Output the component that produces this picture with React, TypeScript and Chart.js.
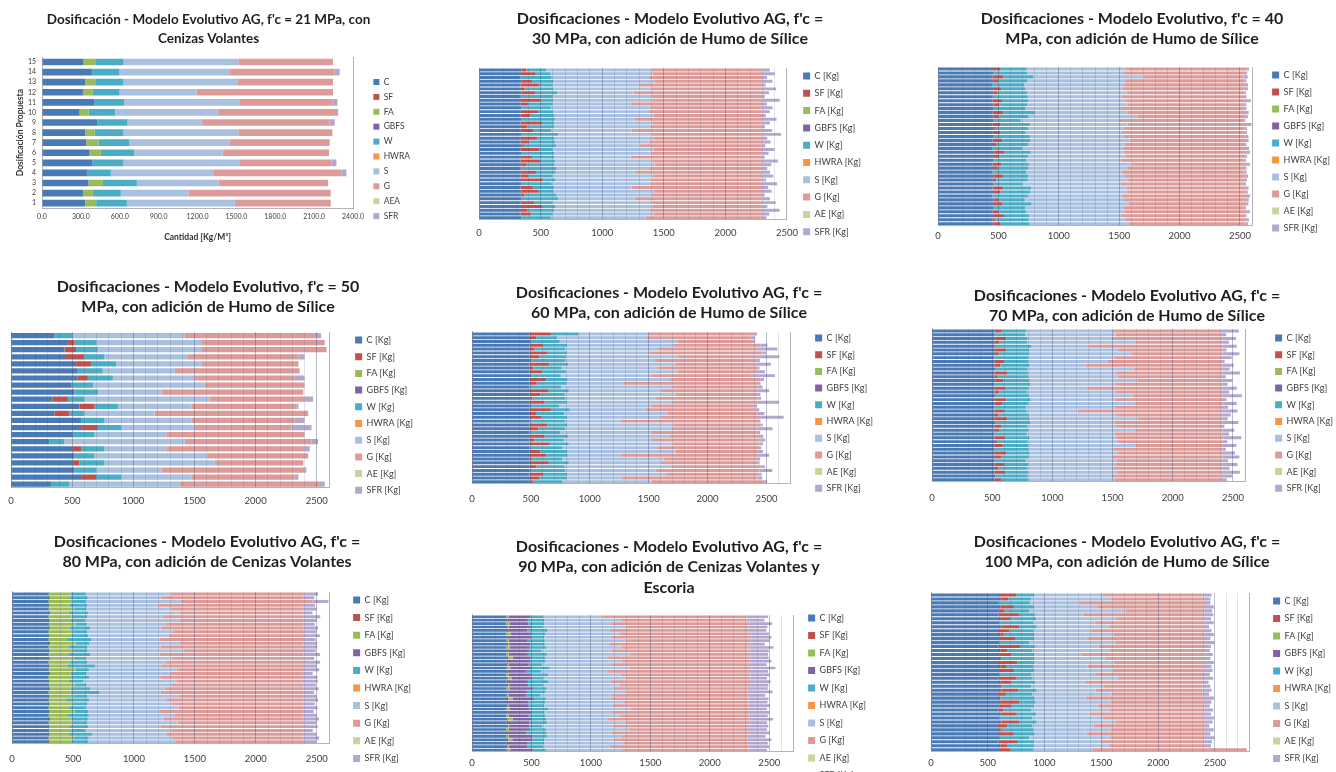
import React, { useEffect, useMemo, useRef } from "react";
import { Chart, registerables } from "chart.js";

Chart.register(...registerables);

// ---------- categories / legend names ----------
const MATERIALS = ["C", "SF", "FA", "GBFS", "W", "HWRA", "S", "G", "AE", "SFR"];
const LEGEND_21 = ["C", "SF", "FA", "GBFS", "W", "HWRA", "S", "G", "AEA", "SFR"];
const LEGEND_KG = ["C [Kg]", "SF [Kg]", "FA [Kg]", "GBFS [Kg]", "W [Kg]", "HWRA [Kg]", "S [Kg]", "G [Kg]", "AE [Kg]", "SFR [Kg]"];
const COLORS = ["#4a7ab5", "#c0504d", "#9bbb59", "#8064a2", "#4bacc6", "#f79646", "#a9c0e0", "#dc9b99", "#c3d69b", "#b4a7cf"];

const ROWS_15 = ["1", "2", "3", "4", "5", "6", "7", "8", "9", "10", "11", "12", "13", "14", "15"];
const ROWS_22 = ["1", "2", "3", "4", "5", "6", "7", "8", "9", "10", "11", "12", "13", "14", "15", "16", "17", "18", "19", "20", "21", "22"];
const ROWS_40 = [
  "1", "2", "3", "4", "5", "6", "7", "8", "9", "10",
  "11", "12", "13", "14", "15", "16", "17", "18", "19", "20",
  "21", "22", "23", "24", "25", "26", "27", "28", "29", "30",
  "31", "32", "33", "34", "35", "36", "37", "38", "39", "40",
];

// ---------- f'c = 21 MPa ----------
const C21 = [334, 316, 359, 347, 390, 367, 341, 334, 429, 290, 403, 316, 334, 385, 321];
const FA21 = [84, 77, 111, 0, 0, 87, 95, 72, 0, 69, 0, 77, 77, 0, 90];
const W21 = [237, 215, 262, 184, 239, 257, 239, 223, 231, 206, 231, 205, 218, 213, 218];
const S21 = [834, 522, 629, 796, 893, 683, 770, 886, 572, 788, 888, 596, 878, 847, 886];
const G21 = [739, 1098, 847, 983, 711, 821, 775, 726, 988, 932, 719, 1052, 739, 814, 731];
const SFR21 = [0, 0, 0, 39, 39, 0, 0, 0, 39, 0, 39, 0, 0, 38, 0];

// ---------- f'c = 30 MPa ----------
const C30 = [345, 340, 338, 342, 336, 340, 344, 339, 341, 337, 343, 340, 338, 345, 336, 341, 339, 342, 340, 337, 344, 338, 341, 340, 336, 343, 339, 342, 338, 341, 340, 337, 345, 339, 342, 338, 341, 340, 336, 343];
const SF30 = [40, 120, 0, 90, 150, 30, 110, 0, 160, 60, 0, 140, 80, 0, 175, 50, 100, 0, 130, 70, 20, 150, 0, 90, 160, 40, 0, 120, 60, 180, 0, 100, 140, 30, 0, 110, 170, 50, 90, 0];
const W30 = [160, 120, 250, 170, 110, 230, 180, 260, 100, 200, 240, 120, 190, 270, 100, 220, 150, 300, 140, 210, 260, 110, 270, 180, 120, 230, 290, 160, 200, 100, 250, 170, 120, 260, 300, 150, 110, 220, 170, 240];
const S30 = [855, 830, 790, 820, 700, 790, 620, 800, 810, 630, 820, 780, 810, 650, 800, 780, 650, 760, 810, 760, 680, 820, 780, 620, 790, 810, 750, 640, 810, 780, 800, 630, 810, 770, 620, 800, 790, 780, 820, 770];
const G30 = [900, 890, 920, 880, 1000, 900, 1050, 900, 890, 1070, 890, 920, 880, 1040, 890, 910, 1060, 900, 880, 930, 990, 880, 910, 1070, 890, 880, 920, 1040, 890, 900, 910, 1060, 880, 900, 1040, 900, 890, 910, 880, 950];
const SFR30 = [60, 100, 40, 80, 30, 120, 50, 20, 140, 40, 90, 60, 30, 110, 60, 20, 80, 150, 40, 60, 30, 100, 50, 20, 130, 70, 40, 60, 90, 30, 120, 50, 80, 20, 60, 110, 40, 140, 60, 30];

// ---------- f'c = 40 MPa ----------
const C40 = [455, 460, 450, 458, 452, 456, 460, 454, 450, 458, 455, 452, 460, 456, 450, 458, 454, 460, 452, 456, 450, 458, 455, 460, 452, 456, 450, 458, 454, 460, 452, 456, 450, 458, 455, 460, 452, 456, 450, 458];
const SF40 = [60, 0, 90, 40, 0, 70, 30, 0, 80, 50, 0, 90, 40, 0, 70, 20, 60, 0, 80, 30, 0, 90, 50, 0, 70, 40, 0, 80, 30, 0, 90, 60, 0, 40, 80, 0, 50, 90, 20, 60];
const W40 = [220, 280, 250, 240, 260, 200, 250, 290, 220, 230, 270, 260, 250, 230, 240, 270, 210, 300, 230, 260, 250, 220, 240, 270, 230, 250, 280, 210, 260, 240, 230, 250, 300, 220, 240, 260, 230, 210, 280, 240];
const S40 = [820, 800, 910, 810, 830, 800, 820, 780, 800, 830, 790, 770, 900, 820, 810, 790, 800, 780, 830, 800, 840, 770, 810, 780, 850, 820, 790, 800, 830, 810, 790, 800, 770, 830, 800, 820, 810, 760, 800, 820];
const G40 = [1000, 1010, 830, 990, 1000, 1010, 980, 1010, 1000, 970, 1020, 970, 890, 1030, 990, 1000, 1020, 1000, 960, 1000, 1010, 1010, 990, 1020, 950, 980, 1010, 1000, 970, 1010, 990, 990, 1030, 1000, 980, 990, 1010, 1030, 1000, 970];
const SFR40 = [20, 10, 35, 15, 25, 30, 10, 20, 40, 15, 20, 30, 25, 10, 35, 20, 15, 30, 20, 10, 25, 35, 15, 20, 30, 10, 25, 20, 15, 30, 20, 10, 35, 25, 15, 20, 30, 10, 25, 20];

// ---------- f'c = 50 MPa ----------
const C50 = [355, 465, 437, 450, 532, 546, 546, 491, 519, 341, 560, 355, 573, 573, 505, 314, 505, 519, 505, 519, 573, 328];
const SF50 = [0, 55, 95, 150, 123, 0, 82, 0, 0, 124, 123, 123, 0, 137, 0, 0, 68, 0, 55, 0, 123, 0];
const W50 = [150, 180, 178, 165, 205, 204, 205, 179, 191, 135, 191, 122, 192, 190, 178, 123, 192, 164, 205, 181, 204, 150];
const S50 = [915, 855, 845, 682, 695, 590, 667, 913, 520, 1025, 601, 575, 710, 600, 587, 983, 505, 917, 900, 530, 575, 902];
const G50 = [1065, 1010, 1025, 903, 795, 1020, 820, 817, 1160, 775, 860, 1255, 845, 793, 1130, 1037, 1130, 830, 725, 1170, 845, 1145];
const SFR50 = [50, 0, 0, 50, 0, 0, 80, 0, 0, 70, 15, 0, 80, 164, 0, 53, 43, 0, 0, 15, 30, 40];

// ---------- f'c = 60 MPa ----------
const C60 = [490, 485, 495, 488, 492, 486, 490, 494, 488, 491, 487, 493, 489, 490, 486, 492, 488, 495, 487, 491, 489, 493, 486, 490, 488, 492, 487, 494, 489, 491, 486, 490, 493, 488, 492, 487, 490, 489, 494, 486];
const SF60 = [180, 60, 0, 120, 40, 150, 80, 0, 170, 30, 110, 0, 140, 60, 0, 160, 90, 20, 130, 0, 180, 50, 100, 0, 150, 70, 0, 120, 40, 170, 0, 90, 140, 20, 160, 60, 0, 120, 80, 30];
const W60 = [230, 180, 250, 200, 260, 170, 230, 300, 160, 240, 200, 260, 180, 250, 270, 170, 210, 280, 190, 250, 160, 240, 220, 300, 170, 230, 260, 200, 250, 160, 280, 230, 180, 260, 170, 240, 300, 200, 230, 250];
const S60 = [600, 760, 1000, 900, 780, 700, 950, 760, 900, 820, 950, 760, 880, 480, 950, 780, 940, 760, 900, 780, 650, 880, 800, 470, 900, 900, 770, 860, 740, 880, 800, 920, 450, 860, 780, 900, 770, 840, 470, 760];
const G60 = [900, 880, 640, 740, 850, 960, 660, 860, 680, 840, 680, 860, 760, 1150, 720, 800, 700, 870, 720, 880, 920, 760, 840, 1160, 740, 720, 900, 780, 910, 740, 870, 700, 1160, 790, 820, 760, 880, 790, 1150, 960];
const SFR60 = [20, 40, 20, 60, 170, 30, 200, 30, 140, 20, 60, 200, 30, 20, 40, 120, 20, 30, 180, 20, 40, 60, 200, 30, 20, 140, 30, 20, 60, 30, 20, 40, 100, 30, 20, 40, 110, 20, 40, 20];

// ---------- f'c = 70 MPa ----------
const C70 = [520, 515, 525, 518, 522, 516, 524, 519, 521, 517, 523, 518, 520, 525, 516, 522, 519, 524, 517, 521, 520, 518, 523, 516, 525, 519, 522, 517, 520, 524, 518, 521, 516, 523, 520, 518, 522, 517, 525, 519];
const SF70 = [60, 0, 90, 40, 0, 100, 30, 0, 80, 50, 0, 110, 20, 70, 0, 90, 40, 0, 100, 60, 0, 80, 30, 110, 0, 60, 40, 0, 90, 20, 70, 0, 100, 50, 0, 80, 30, 90, 0, 60];
const W70 = [200, 260, 180, 230, 300, 190, 250, 280, 200, 240, 270, 170, 260, 210, 300, 190, 230, 280, 200, 220, 260, 190, 250, 180, 290, 210, 240, 270, 200, 250, 210, 280, 190, 230, 260, 200, 240, 190, 270, 220];
const S70 = [720, 750, 700, 900, 480, 740, 850, 710, 660, 470, 880, 730, 740, 900, 700, 480, 740, 860, 700, 880, 740, 420, 720, 900, 700, 740, 880, 730, 720, 740, 890, 710, 740, 700, 750, 730, 720, 740, 700, 720];
const G70 = [900, 880, 920, 720, 1110, 870, 760, 900, 950, 1130, 740, 880, 870, 700, 900, 1130, 880, 750, 900, 740, 890, 1190, 890, 710, 900, 880, 730, 890, 890, 880, 730, 900, 880, 910, 880, 890, 900, 880, 900, 900];
const SFR70 = [150, 40, 110, 60, 120, 30, 140, 80, 20, 100, 60, 150, 30, 90, 40, 120, 60, 160, 30, 110, 50, 140, 70, 40, 130, 20, 100, 60, 150, 40, 110, 30, 90, 140, 50, 120, 60, 140, 100, 30];

// ---------- f'c = 80 MPa ----------
const C80 = [300, 310, 295, 305, 300, 315, 298, 308, 302, 310, 296, 305, 300, 312, 298, 306, 301, 309, 297, 304, 300, 311, 295, 307, 302, 310, 298, 305, 301, 309, 296, 304, 300, 312, 298, 306, 302, 308, 299, 305];
const FA80 = [180, 160, 200, 170, 210, 150, 190, 170, 220, 160, 200, 180, 150, 210, 170, 190, 160, 200, 180, 150, 220, 170, 190, 160, 210, 170, 180, 200, 150, 190, 170, 210, 160, 180, 200, 170, 190, 160, 210, 180];
const W80 = [120, 150, 110, 140, 100, 160, 130, 120, 90, 170, 120, 140, 200, 110, 150, 120, 180, 100, 140, 230, 110, 130, 150, 120, 100, 160, 240, 110, 180, 120, 140, 110, 170, 130, 120, 150, 110, 190, 120, 140];
const S80 = [700, 600, 780, 580, 690, 750, 620, 780, 650, 580, 700, 660, 560, 740, 600, 790, 570, 700, 640, 540, 720, 680, 580, 760, 700, 610, 500, 750, 640, 690, 760, 580, 700, 620, 740, 590, 710, 600, 680, 720];
const G80 = [1100, 1170, 1080, 1190, 1080, 1010, 1150, 1010, 1130, 1170, 1080, 1110, 1190, 1020, 1160, 990, 1180, 1090, 1130, 1170, 1050, 1090, 1180, 1030, 1080, 1140, 1170, 1020, 1110, 1080, 1020, 1180, 1060, 1140, 1040, 1170, 1070, 1130, 1080, 1050];
const SFR80 = [110, 90, 130, 100, 120, 80, 140, 110, 90, 120, 100, 130, 90, 110, 125, 95, 135, 80, 140, 105, 120, 85, 110, 130, 100, 125, 90, 115, 130, 95, 120, 90, 110, 135, 100, 120, 85, 110, 130, 100];

// ---------- f'c = 90 MPa ----------
const C90 = [290, 300, 285, 295, 305, 288, 298, 292, 302, 286, 296, 290, 304, 288, 298, 292, 300, 286, 296, 290, 302, 288, 298, 292, 304, 286, 296, 290, 300, 288, 298, 292, 302, 286, 296, 290, 304, 288, 298, 292];
const FA90 = [20, 0, 30, 10, 0, 40, 0, 20, 10, 30, 0, 20, 40, 0, 10, 30, 0, 25, 35, 0, 10, 30, 0, 15, 40, 0, 10, 30, 0, 20, 45, 0, 10, 25, 0, 20, 35, 0, 10, 30];
const GBFS90 = [180, 170, 160, 190, 160, 170, 200, 150, 180, 170, 190, 160, 150, 200, 170, 180, 160, 190, 170, 180, 160, 200, 170, 150, 180, 190, 170, 160, 200, 170, 160, 190, 170, 180, 160, 200, 170, 180, 160, 190];
const W90 = [110, 140, 130, 100, 170, 120, 110, 150, 120, 140, 100, 160, 120, 130, 110, 150, 120, 140, 100, 170, 130, 110, 150, 120, 100, 140, 130, 160, 110, 140, 120, 150, 110, 130, 170, 120, 100, 140, 130, 110];
const S90 = [500, 640, 560, 700, 520, 620, 560, 680, 540, 630, 590, 700, 520, 640, 580, 670, 550, 610, 690, 530, 640, 560, 680, 600, 540, 650, 580, 690, 560, 620, 520, 660, 590, 700, 550, 630, 580, 670, 560, 640];
const G90 = [1210, 1060, 1160, 1030, 1150, 1110, 1160, 1050, 1170, 1070, 1150, 1010, 1200, 1080, 1160, 1030, 1190, 1090, 1040, 1160, 1080, 1140, 1030, 1140, 1160, 1060, 1140, 1000, 1160, 1090, 1190, 1040, 1140, 1000, 1150, 1060, 1130, 1050, 1170, 1070];
const SFR90 = [180, 150, 200, 160, 170, 150, 190, 160, 140, 210, 170, 150, 160, 180, 150, 200, 170, 160, 150, 180, 170, 160, 200, 150, 170, 160, 180, 150, 170, 160, 200, 150, 170, 160, 180, 150, 200, 160, 170, 150];

// ---------- f'c = 100 MPa ----------
const C100 = [600, 620, 590, 610, 605, 595, 615, 600, 620, 590, 610, 600, 605, 595, 615, 600, 620, 590, 610, 600, 605, 595, 615, 600, 620, 590, 610, 600, 605, 595, 615, 600, 620, 590, 610, 600, 605, 595, 615, 600];
const SF100 = [150, 60, 0, 120, 40, 180, 80, 0, 160, 100, 30, 140, 0, 190, 60, 110, 0, 170, 50, 130, 0, 160, 90, 20, 150, 70, 0, 180, 100, 40, 140, 0, 160, 80, 20, 130, 0, 170, 60, 100];
const W100 = [160, 200, 280, 180, 220, 140, 230, 300, 150, 210, 270, 170, 260, 130, 220, 200, 290, 150, 240, 180, 280, 140, 210, 260, 160, 230, 300, 140, 200, 250, 170, 290, 150, 220, 270, 180, 260, 140, 230, 200];
const S100 = [600, 700, 430, 560, 850, 420, 700, 540, 640, 510, 700, 460, 750, 560, 680, 420, 620, 700, 480, 690, 560, 750, 440, 640, 520, 700, 450, 660, 560, 690, 470, 620, 700, 540, 680, 460, 720, 590, 660, 520];
const G100 = [880, 830, 1100, 930, 690, 1070, 780, 960, 830, 990, 800, 1030, 790, 920, 830, 1070, 870, 790, 1020, 800, 950, 750, 1040, 870, 940, 800, 1040, 820, 940, 830, 1010, 890, 780, 970, 830, 1030, 820, 910, 840, 1360];
const SFR100 = [80, 50, 60, 90, 70, 80, 60, 90, 50, 70, 80, 60, 90, 70, 50, 80, 60, 90, 70, 80, 60, 90, 50, 70, 80, 60, 90, 70, 50, 80, 60, 90, 70, 50, 80, 60, 90, 70, 60, 0];

// ---------- panel layout specs ----------
const FONT = "Lato";
const TS = 16; // title size of the dense panels
const TLH = 1.27;

const PANELS: any[] = [
  {
    key: "p21", top: 0, height: 250,
    title: ["Dosificación - Modelo Evolutivo AG, f'c = 21 MPa, con", "Cenizas Volantes"],
    titleSize: 13.5, titleLH: 1.35, titleY: 20, titleX: 208.5,
    plotL: 42, plotR: 353, plotT: 57, plotB: 213,
    xMax: 2400, xStep: 300, tickY: 222, tickSize: 7, fixed1: true,
    legendX: 373, legendY: 82, legendGap: 14.9, legendSize: 8.5, legendBox: 6,
    legendLabels: LEGEND_21, rows: ROWS_15, reverseRows: true, barPct: 0.66,
    series: { C: C21, FA: FA21, W: W21, S: S21, G: G21, SFR: SFR21 },
    xTitle: { text: "Cantidad [Kg/M³]", y: 237, size: 8.5 },
    yTitle: { text: "Dosificación Propuesta", x: 20, size: 8.5 },
    yTicks: { size: 7, pad: 6 },
    grid: false,
  },
  {
    key: "p30", top: 0, height: 262,
    title: ["Dosificaciones - Modelo Evolutivo AG, f'c =", "30 MPa, con adición de Humo de Sílice"],
    titleSize: TS, titleLH: TLH, titleY: 18.5, titleX: 670,
    plotL: 477, plotR: 787, plotT: 68, plotB: 227,
    xMax: 2500, xStep: 100, tickY: 240, tickSize: 9.5,
    legendX: 803, legendY: 76, legendGap: 17.3, legendSize: 9, legendBox: 7,
    legendLabels: LEGEND_KG, rows: ROWS_40, barPct: 0.78,
    series: { C: C30, SF: SF30, W: W30, S: S30, G: G30, SFR: SFR30 },
    grid: true,
  },
  {
    key: "p40", top: 0, height: 262,
    title: ["Dosificaciones - Modelo Evolutivo, f'c = 40", "MPa, con adición de Humo de Sílice"],
    titleSize: TS, titleLH: TLH, titleY: 19, titleX: 1132,
    plotL: 938, plotR: 1252, plotT: 67, plotB: 230,
    xMax: 2600, xStep: 100, tickY: 240, tickSize: 9.5,
    legendX: 1272, legendY: 75, legendGap: 17, legendSize: 9, legendBox: 7,
    legendLabels: LEGEND_KG, rows: ROWS_40, barPct: 0.78,
    series: { C: C40, SF: SF40, W: W40, S: S40, G: G40, SFR: SFR40 },
    grid: true,
  },
  {
    key: "p50", top: 250, height: 275,
    title: ["Dosificaciones - Modelo Evolutivo, f'c = 50", "MPa, con adición de Humo de Sílice"],
    titleSize: TS, titleLH: TLH, titleY: 287, titleX: 208,
    plotL: 11, plotR: 329, plotT: 332, plotB: 495,
    xMax: 2600, xStep: 100, tickY: 508, tickSize: 9.5,
    legendX: 355, legendY: 340, legendGap: 16.7, legendSize: 9, legendBox: 7,
    legendLabels: LEGEND_KG, rows: ROWS_22, barPct: 0.74,
    series: { C: C50, SF: SF50, W: W50, S: S50, G: G50, SFR: SFR50 },
    grid: true,
  },
  {
    key: "p60", top: 250, height: 275,
    title: ["Dosificaciones - Modelo Evolutivo AG, f'c =", "60 MPa, con adición de Humo de Sílice"],
    titleSize: TS, titleLH: TLH, titleY: 293, titleX: 669,
    plotL: 472, plotR: 790, plotT: 332, plotB: 493,
    xMax: 2700, xStep: 100, tickY: 508, tickSize: 9.5,
    legendX: 815, legendY: 338, legendGap: 16.7, legendSize: 9, legendBox: 7,
    legendLabels: LEGEND_KG, rows: ROWS_40, barPct: 0.78,
    series: { C: C60, SF: SF60, W: W60, S: S60, G: G60, SFR: SFR60 },
    grid: true,
  },
  {
    key: "p70", top: 250, height: 275,
    title: ["Dosificaciones - Modelo Evolutivo AG, f'c =", "70 MPa, con adición de Humo de Sílice"],
    titleSize: TS, titleLH: TLH, titleY: 296, titleX: 1127,
    plotL: 932, plotR: 1245, plotT: 329, plotB: 492,
    xMax: 2600, xStep: 100, tickY: 508, tickSize: 9.5,
    legendX: 1275, legendY: 338, legendGap: 16.7, legendSize: 9, legendBox: 7,
    legendLabels: LEGEND_KG, rows: ROWS_40, barPct: 0.78,
    series: { C: C70, SF: SF70, W: W70, S: S70, G: G70, SFR: SFR70 },
    grid: true,
  },
  {
    key: "p80", top: 510, height: 280,
    title: ["Dosificaciones - Modelo Evolutivo AG, f'c =", "80 MPa, con adición de Cenizas Volantes"],
    titleSize: TS, titleLH: TLH, titleY: 542, titleX: 207,
    plotL: 12, plotR: 329, plotT: 592, plotB: 753,
    xMax: 2600, xStep: 100, tickY: 768, tickSize: 9.5,
    legendX: 353, legendY: 600, legendGap: 17.6, legendSize: 9, legendBox: 7,
    legendLabels: LEGEND_KG, rows: ROWS_40, barPct: 0.78,
    series: { C: C80, FA: FA80, W: W80, S: S80, G: G80, SFR: SFR80 },
    grid: true,
  },
  {
    key: "p90", top: 510, height: 290,
    title: ["Dosificaciones - Modelo Evolutivo AG, f'c =", "90 MPa, con adición de Cenizas Volantes y", "Escoria"],
    titleSize: TS, titleLH: TLH, titleY: 547, titleX: 669,
    plotL: 472, plotR: 793, plotT: 615, plotB: 757,
    xMax: 2700, xStep: 100, tickY: 768, tickSize: 9.5,
    legendX: 808, legendY: 618, legendGap: 17.5, legendSize: 9, legendBox: 7,
    legendLabels: LEGEND_KG, rows: ROWS_40, barPct: 0.78,
    series: { C: C90, FA: FA90, GBFS: GBFS90, W: W90, S: S90, G: G90, SFR: SFR90 },
    grid: true,
  },
  {
    key: "p100", top: 510, height: 290,
    title: ["Dosificaciones - Modelo Evolutivo AG, f'c =", "100 MPa, con adición de Humo de Sílice"],
    titleSize: TS, titleLH: TLH, titleY: 542, titleX: 1127,
    plotL: 931, plotR: 1249, plotT: 593, plotB: 757,
    xMax: 2800, xStep: 100, tickY: 768, tickSize: 9.5,
    legendX: 1273, legendY: 601, legendGap: 17.5, legendSize: 9, legendBox: 7,
    legendLabels: LEGEND_KG, rows: ROWS_40, barPct: 0.78,
    series: { C: C100, SF: SF100, W: W100, S: S100, G: G100, SFR: SFR100 },
    grid: true,
  },
];

// ---------- geometry helpers ----------
let measureCtx: CanvasRenderingContext2D | null = null;
function measure(text: string, font: string): number {
  if (!measureCtx) measureCtx = document.createElement("canvas").getContext("2d");
  measureCtx!.font = font;
  return measureCtx!.measureText(text).width;
}

function geometry(p: any) {
  const lhPx = p.titleSize * p.titleLH;
  const titlePadTop = p.titleY - p.top - lhPx / 2;
  const titlePadBottom = 2;
  const titleBottom = p.top + titlePadTop + p.title.length * lhPx + titlePadBottom;
  const topH = Math.max(0, p.plotT - titleBottom);

  const itemH = Math.max(p.legendSize, p.legendBox);
  const lp = p.legendGap - itemH;
  const legendTitleH = p.legendY - p.top - lp - itemH / 2;
  const lfont = `${p.legendSize}px ${FONT}`;
  const textW = Math.max(...p.legendLabels.map((t: string) => measure(t, lfont)));
  const LW = lp + p.legendBox + p.legendSize / 2 + textW + 10;
  const legendLeft = p.legendX - lp;
  const R = legendLeft + LW;
  const L = Math.round(2 * p.titleX - R);
  const W = Math.round(R - L);
  const realLegendLeft = L + W - LW;
  const leftW = Math.max(4, p.plotL - L);
  const rightW = Math.max(0, realLegendLeft - p.plotR);

  const tickLH = p.tickSize * 1.2;
  const tickPad = p.tickY - p.plotB - tickLH / 2;
  let xAxisH = tickPad + tickLH;
  let xTitlePadTop = 0;
  if (p.xTitle) {
    const tlh = p.xTitle.size * 1.2;
    xTitlePadTop = p.xTitle.y - tlh / 2 - (p.plotB + tickPad + tickLH);
    xAxisH += xTitlePadTop + tlh;
  }
  const botH = Math.max(0, p.top + p.height - p.plotB - xAxisH);
  let yTitlePadTop = 0;
  if (p.yTitle) yTitlePadTop = p.yTitle.x - L - (p.yTitle.size * 1.2) / 2;

  return { L, W, titlePadTop, titlePadBottom, topH, lp, legendTitleH, leftW, rightW, tickPad, xTitlePadTop, botH, yTitlePadTop };
}

function spacer(position: string, size: number, weight = 0) {
  const horizontal = position === "top" || position === "bottom";
  return {
    type: "linear",
    position,
    weight,
    display: false,
    grid: { display: false, drawTicks: false },
    border: { display: false },
    ticks: { display: false },
    afterFit: (s: any) => {
      if (horizontal) s.height = size;
      else s.width = size;
    },
  };
}

function buildConfig(p: any, g: any) {
  const datasets = MATERIALS.map((m, i) => ({
    label: p.legendLabels[i],
    data: p.series[m] || [],
    backgroundColor: COLORS[i],
    borderWidth: 0,
    xAxisID: "x",
    yAxisID: "y",
    barPercentage: p.barPct,
    categoryPercentage: 1,
  }));

  const borderColor = "#b4b4b4";
  const clear = "rgba(0,0,0,0)";
  const gridColor = (ctx: any) => {
    if (!ctx || !ctx.tick) return clear;
    const v = ctx.tick.value;
    if (v === p.xMax) return borderColor;
    if (!p.grid) return clear;
    return v % 500 === 0 ? "rgba(70,80,120,0.38)" : "rgba(70,80,120,0.16)";
  };

  return {
    type: "bar",
    data: { labels: p.rows, datasets },
    options: {
      indexAxis: "y",
      responsive: false,
      animation: false,
      devicePixelRatio: 1,
      events: [],
      layout: { padding: 0 },
      scales: {
        x: {
          type: "linear",
          position: "bottom",
          stacked: true,
          min: 0,
          max: p.xMax,
          grid: { display: true, drawTicks: false, z: 1, color: gridColor, lineWidth: 1 },
          // drawn after the grid layer so the border position is already computed
          border: { display: true, color: borderColor, z: 2 },
          ticks: {
            stepSize: p.xStep,
            autoSkip: false,
            maxRotation: 0,
            padding: g.tickPad,
            font: { family: FONT, size: p.tickSize },
            color: "#404040",
            callback: (v: any) => {
              const n = Number(v);
              if (p.fixed1) return n.toFixed(1);
              return n % 500 === 0 ? String(n) : "";
            },
          },
          title: p.xTitle
            ? {
                display: true,
                text: p.xTitle.text,
                color: "#333",
                font: { family: FONT, size: p.xTitle.size, weight: "bold" },
                padding: { top: g.xTitlePadTop, bottom: 0 },
              }
            : { display: false },
        },
        y: {
          type: "category",
          position: "left",
          stacked: true,
          reverse: !!p.reverseRows,
          grid: { display: false, drawTicks: false },
          border: { display: true, color: borderColor },
          ticks: p.yTicks
            ? { display: true, font: { family: FONT, size: p.yTicks.size }, color: "#404040", padding: p.yTicks.pad, autoSkip: false }
            : { display: false },
          title: p.yTitle
            ? {
                display: true,
                text: p.yTitle.text,
                color: "#333",
                font: { family: FONT, size: p.yTitle.size, weight: "bold" },
                padding: { top: g.yTitlePadTop, bottom: 0 },
              }
            : { display: false },
          afterFit: (s: any) => {
            s.width = g.leftW;
          },
        },
        xTop: spacer("top", g.topH),
        yRight: spacer("right", g.rightW),
        xBot: spacer("bottom", g.botH, 10),
      },
      plugins: {
        tooltip: { enabled: false },
        title: {
          display: true,
          text: p.title,
          color: "#1e1e1e",
          font: { family: FONT, size: p.titleSize, weight: "bold", lineHeight: p.titleLH },
          padding: { top: g.titlePadTop, bottom: g.titlePadBottom },
        },
        legend: {
          display: true,
          position: "right",
          align: "start",
          maxWidth: 400,
          labels: {
            boxWidth: p.legendBox,
            boxHeight: p.legendBox,
            padding: g.lp,
            color: "#404040",
            font: { family: FONT, size: p.legendSize },
          },
          title: {
            display: true,
            text: "",
            padding: { top: Math.max(0, g.legendTitleH - 1), bottom: 0 },
            font: { size: 1, lineHeight: 1 },
          },
        },
      },
    },
  };
}

function Panel({ spec }: { spec: any }) {
  const ref = useRef<HTMLCanvasElement>(null);
  const g = useMemo(() => geometry(spec), [spec]);
  useEffect(() => {
    if (!ref.current) return;
    const chart = new Chart(ref.current, buildConfig(spec, g) as any);
    return () => chart.destroy();
  }, [spec, g]);
  return (
    <canvas
      ref={ref}
      width={g.W}
      height={spec.height}
      style={{ position: "absolute", left: g.L, top: spec.top, width: g.W, height: spec.height }}
    />
  );
}

export default function App() {
  useEffect(() => {
    document.body.style.margin = "0";
  }, []);
  return (
    <div
      style={{
        position: "fixed",
        left: 0,
        top: 0,
        width: 1336,
        height: 772,
        overflow: "hidden",
        background: "#ffffff",
      }}
    >
      {PANELS.map((p) => (
        <Panel key={p.key} spec={p} />
      ))}
    </div>
  );
}
